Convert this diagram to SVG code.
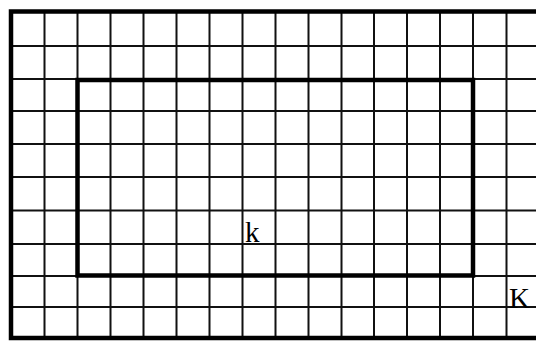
<svg xmlns="http://www.w3.org/2000/svg" width="536" height="341" viewBox="0 0 536 341">
<style>
.thin{stroke:#111;stroke-width:2;fill:none}
.thick{stroke:#000;stroke-width:4.5;fill:none}
.lbl{font-family:"Liberation Serif",serif;font-size:29px;fill:#000}
</style>
<rect width="536" height="341" fill="#fff"/>
<g id="grid" class="thin">
<path d="M44.5 12V338M77.5 12V338M110.5 12V338M143.5 12V338M176.5 12V338M209.5 12V338M242.5 12V338M275.5 12V338M308.5 12V338M341.5 12V338M374 12V338M407 12V338M440 12V338M473 12V338M506.5 12V338"/>
<path d="M11 46H536M11 79H536M11 111H536M11 144H536M11 177H536M11 210.5H536M11 244H536M11 276H536M11 307H536"/>
</g>
<g id="K-outer" class="thick">
<path d="M536 11.5H11V338H536"/>
</g>
<g id="k-inner" class="thick">
<rect x="77.5" y="80" width="395.5" height="195.5"/>
</g>
<text class="lbl" x="245" y="242">k</text>
<text class="lbl" x="509" y="308">K</text>
</svg>
